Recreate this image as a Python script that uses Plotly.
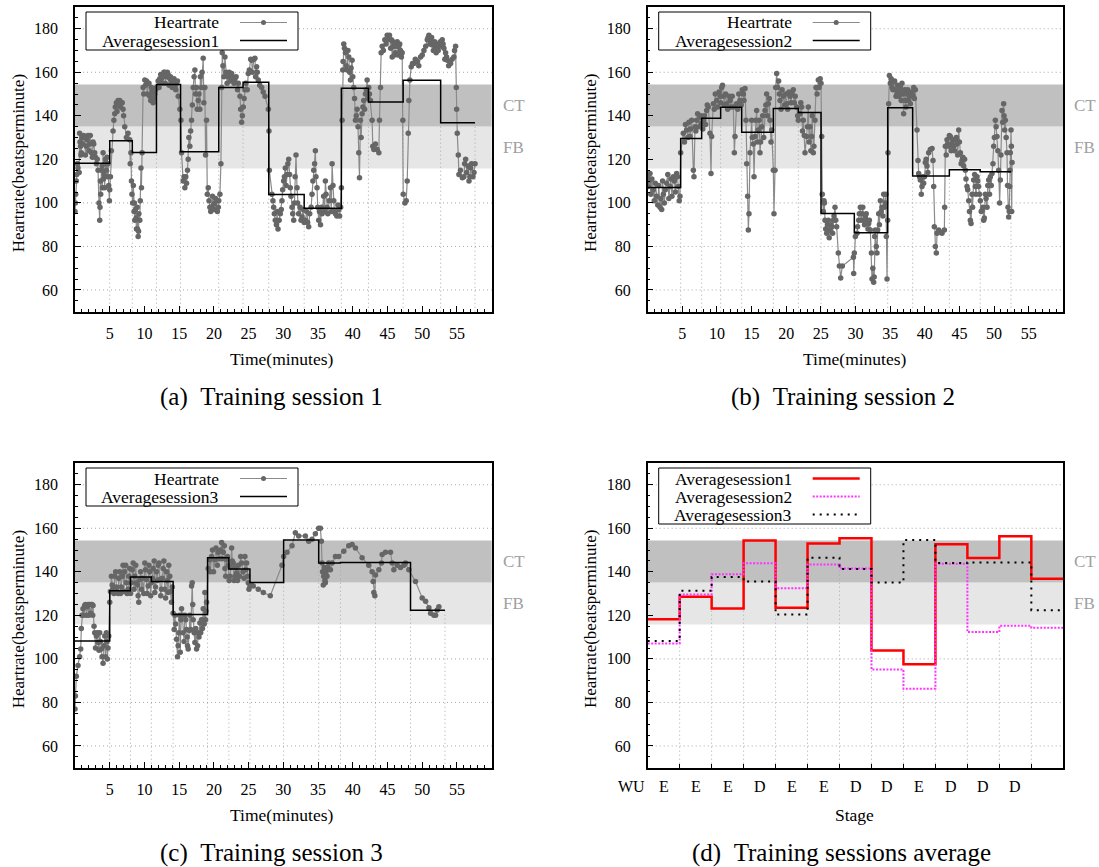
import plotly.graph_objects as go

W, H = 1099, 867
FONT = "Liberation Serif, Times New Roman, serif"

# ---------------- data ----------------
stage_labels = ["WU", "E", "E", "E", "D", "E", "E", "D", "D", "E", "D", "D", "D"]
x_ticks_minutes = [5, 10, 15, 20, 25, 30, 35, 40, 45, 50, 55]
y_ticks_hr = [60, 80, 100, 120, 140, 160, 180]
zone_fb = (115.8, 135.1)
zone_ct = (135.1, 154.4)

s1_bounds = [0, 5.0, 8.25, 11.73, 15.2, 20.7, 24.2, 27.9, 33.0, 38.35, 42.25, 47.25, 52.65, 57.6]
s1_avg = [118.2, 128.5, 123.1, 154.4, 123.5, 153.0, 155.4, 103.9, 97.5, 152.7, 146.4, 156.3, 136.8]
s2_bounds = [0, 4.76, 7.79, 10.53, 13.57, 18.14, 21.75, 25.02, 29.83, 34.65, 38.25, 43.55, 48.0, 52.45]
s2_avg = [107.1, 129.6, 138.9, 143.9, 132.5, 143.4, 141.5, 95.1, 86.3, 143.7, 112.3, 115.2, 114.3]
s3_bounds = [0, 5.0, 7.98, 11.0, 14.13, 19.09, 22.16, 25.19, 30.04, 35.09, 38.22, 43.27, 48.31, 53.27]
s3_avg = [108.2, 131.3, 137.6, 135.5, 120.4, 146.5, 141.3, 135.1, 154.6, 144.0, 144.3, 144.3, 122.4]

# heart-rate readings (minutes, bpm)
hr_session1 = [
    (0.0, 96), (0.05, 100), (0.1, 104), (0.19, 110), (0.25, 113), (0.35, 118), (0.43, 116), (0.6, 114),
    (0.67, 132), (0.72, 128), (0.8, 126), (0.85, 122), (0.91, 123), (1.0, 130), (1.15, 127), (1.25, 131),
    (1.39, 130), (1.5, 122), (1.63, 126), (1.75, 129), (1.88, 131), (2.0, 124), (2.12, 127), (2.2, 131),
    (2.36, 123), (2.5, 121), (2.6, 128), (2.7, 127), (2.84, 123), (2.95, 121), (3.08, 118), (3.2, 120),
    (3.32, 115), (3.45, 100), (3.56, 92), (3.6, 98), (3.65, 110), (3.7, 104), (3.8, 115), (3.9, 117),
    (3.95, 107), (4.04, 123), (4.1, 111), (4.2, 113), (4.28, 107), (4.35, 118), (4.4, 120), (4.52, 115),
    (4.6, 121), (4.7, 112), (4.76, 118), (4.85, 108), (4.95, 101), (5.0, 106), (5.1, 112), (5.24, 124),
    (5.48, 133), (5.6, 138), (5.72, 141), (5.8, 144), (5.96, 146), (6.05, 142), (6.2, 147), (6.3, 146),
    (6.44, 147), (6.55, 144), (6.68, 146), (6.8, 146), (6.92, 143), (7.0, 140), (7.16, 135), (7.4, 130),
    (7.64, 132), (7.88, 129), (7.95, 118), (8.05, 123), (8.13, 110), (8.2, 104), (8.3, 100), (8.4, 108),
    (8.5, 96), (8.55, 100), (8.61, 92), (8.7, 97), (8.8, 93), (8.85, 88), (8.95, 98), (9.0, 88),
    (9.09, 84.5), (9.15, 87), (9.2, 95), (9.33, 92), (9.4, 101), (9.5, 116), (9.57, 107), (9.66, 123),
    (9.81, 153), (9.9, 150), (10.05, 156.5), (10.15, 154), (10.3, 156), (10.4, 150), (10.53, 155),
    (10.65, 155), (10.77, 149), (10.9, 147), (11.01, 153), (11.1, 151), (11.25, 146), (11.35, 148),
    (11.49, 150), (11.6, 152), (11.73, 153), (11.97, 156), (12.1, 153), (12.2, 157), (12.35, 159),
    (12.45, 157), (12.55, 155), (12.7, 158), (12.8, 160), (12.93, 160), (13.0, 155), (13.17, 158),
    (13.3, 160), (13.41, 159), (13.55, 154), (13.65, 157), (13.75, 158), (13.89, 155), (14.0, 153),
    (14.13, 156), (14.25, 157), (14.38, 153), (14.5, 152), (14.62, 155), (14.75, 156), (14.86, 149),
    (15.1, 143), (15.25, 138), (15.34, 123), (15.58, 110), (15.7, 112), (15.82, 107), (15.95, 112),
    (16.06, 109), (16.2, 115), (16.3, 120), (16.4, 130), (16.54, 126), (16.65, 133), (16.78, 138),
    (16.9, 145), (17.02, 153), (17.15, 158), (17.26, 161), (17.35, 150), (17.5, 153), (17.6, 143),
    (17.74, 147), (17.85, 150), (17.98, 143), (18.05, 158), (18.22, 153), (18.3, 160), (18.46, 166.5),
    (18.55, 146), (18.7, 153), (18.8, 122), (18.94, 138), (19.05, 104), (19.18, 107), (19.3, 101),
    (19.42, 98), (19.55, 96), (19.66, 97), (19.8, 103), (19.9, 99), (20.0, 97), (20.14, 100),
    (20.25, 102), (20.4, 97), (20.5, 96), (20.63, 98), (20.7, 101), (20.87, 104), (21.01, 118),
    (21.11, 153), (21.2, 169), (21.3, 163), (21.45, 158), (21.59, 167), (21.75, 160), (21.9, 155),
    (22.07, 158), (22.2, 160), (22.4, 156), (22.55, 159.5), (22.7, 158), (22.9, 155), (23.03, 157),
    (23.2, 158), (23.4, 152), (23.51, 155), (23.75, 149), (23.85, 143), (23.99, 137), (24.1, 140),
    (24.23, 144), (24.35, 148), (24.47, 152), (24.6, 155), (24.8, 152), (24.95, 159.5), (25.1, 161),
    (25.3, 166), (25.43, 165.5), (25.55, 160), (25.75, 166), (25.91, 166.5), (26.0, 158), (26.15, 162.5),
    (26.25, 160), (26.39, 156.5), (26.6, 154), (26.88, 153), (27.1, 151), (27.36, 149), (27.84, 143),
    (27.93, 133), (27.98, 115), (28.36, 104), (28.5, 101), (28.6, 98), (28.7, 95), (28.84, 92), (29.0, 90),
    (29.1, 96), (29.23, 88), (29.4, 92), (29.56, 95), (29.7, 97), (29.8, 101), (29.9, 106), (30.04, 110),
    (30.15, 112), (30.28, 116), (30.4, 108), (30.53, 113), (30.65, 118), (30.77, 120), (30.9, 113),
    (31.0, 107), (31.1, 103), (31.25, 98), (31.35, 95), (31.49, 92), (31.6, 100), (31.7, 112), (31.82, 122),
    (31.97, 107), (32.05, 100), (32.2, 95), (32.4, 98), (32.55, 92), (32.69, 93.5), (32.85, 97), (33.0, 91),
    (33.17, 92), (33.35, 96), (33.5, 91), (33.65, 89), (33.8, 95), (34.0, 98), (34.13, 104), (34.25, 110),
    (34.37, 115), (34.5, 118), (34.61, 124), (34.7, 112), (34.85, 107), (34.95, 98), (35.09, 92), (35.2, 96),
    (35.35, 90), (35.5, 98), (35.57, 95), (35.8, 103), (35.95, 96), (36.05, 110), (36.15, 104), (36.29, 98),
    (36.4, 95), (36.6, 101), (36.78, 107), (36.9, 96), (37.02, 118), (37.15, 108), (37.26, 101), (37.35, 96),
    (37.5, 95), (37.7, 94), (37.85, 99), (37.98, 97), (38.1, 94), (38.25, 98), (38.36, 107), (38.46, 138),
    (38.55, 161), (38.6, 165), (38.7, 173), (38.8, 171), (38.94, 169), (39.05, 163), (39.18, 161),
    (39.3, 170), (39.42, 167), (39.55, 160), (39.66, 156.5), (39.75, 162), (39.9, 165.5), (40.0, 158),
    (40.14, 153), (40.25, 148), (40.38, 138), (40.5, 140), (40.62, 143), (40.75, 135), (40.86, 123),
    (40.96, 111.5), (41.1, 138), (41.2, 130), (41.34, 141), (41.45, 144), (41.58, 147), (41.7, 143),
    (41.82, 150), (41.95, 152), (42.06, 156.5), (42.2, 148), (42.3, 153), (42.4, 150), (42.54, 147),
    (42.78, 138), (42.88, 126), (43.03, 124.5), (43.27, 127), (43.51, 124.5), (43.75, 123), (43.84, 138),
    (43.99, 153), (44.08, 169), (44.23, 172), (44.4, 170), (44.61, 175), (44.8, 173), (44.95, 177),
    (45.1, 175), (45.28, 177), (45.45, 171), (45.57, 175), (45.67, 167), (45.8, 174), (45.91, 172),
    (46.0, 168), (46.15, 169), (46.25, 172), (46.39, 174), (46.5, 168), (46.63, 172), (46.75, 173),
    (46.87, 170), (47.0, 167), (47.11, 169), (47.21, 138), (47.26, 104), (47.5, 100), (47.69, 101),
    (47.83, 110), (47.98, 132), (48.07, 147), (48.22, 156.5), (48.41, 162.5), (48.6, 164), (48.79, 164),
    (49.0, 166), (49.28, 165), (49.5, 163), (49.76, 167), (50.0, 168), (50.24, 170), (50.5, 172),
    (50.72, 175), (50.85, 176), (50.96, 177), (51.1, 173), (51.2, 175), (51.35, 176), (51.44, 172.5),
    (51.6, 170), (51.8, 174), (51.92, 172), (52.0, 169), (52.16, 171), (52.3, 170), (52.4, 173),
    (52.6, 174), (52.75, 172), (52.88, 175), (53.0, 173), (53.12, 171), (53.25, 166), (53.36, 169),
    (53.5, 167), (53.6, 165.5), (53.8, 163), (54.08, 164), (54.3, 166), (54.56, 167), (54.65, 170),
    (54.8, 172), (54.9, 153), (54.95, 143), (55.04, 132), (55.19, 122), (55.28, 113), (55.5, 115),
    (55.77, 111.5), (56.0, 112), (56.1, 118), (56.25, 120), (56.4, 114), (56.6, 117), (56.73, 110),
    (56.85, 112), (56.97, 116), (57.1, 118), (57.3, 112), (57.45, 114), (57.6, 118),
]

hr_session2 = [
    (0.0, 112), (0.09, 107.5), (0.2, 110), (0.33, 113.5), (0.45, 104), (0.6, 111), (0.81, 106), (0.95, 101),
    (1.1, 109), (1.29, 103), (1.45, 99), (1.6, 108), (1.78, 98), (1.9, 102), (2.02, 97), (2.15, 110),
    (2.26, 104), (2.4, 100), (2.55, 106), (2.74, 109), (2.9, 113), (3.05, 102), (3.22, 107.5), (3.35, 111),
    (3.5, 103), (3.7, 112), (3.85, 110), (4.0, 105), (4.18, 113.5), (4.3, 112), (4.42, 107.5), (4.55, 101),
    (4.66, 103), (4.76, 123), (5.14, 132), (5.3, 128), (5.45, 136), (5.63, 133.5), (5.8, 130), (5.95, 137),
    (6.11, 130.5), (6.2, 134), (6.35, 138), (6.59, 115), (6.68, 112), (6.83, 135), (6.95, 133), (7.07, 138),
    (7.2, 141), (7.4, 135), (7.55, 139.5), (7.7, 140), (7.79, 136.5), (7.95, 134), (8.03, 138), (8.2, 140),
    (8.35, 136), (8.51, 142.5), (8.6, 145), (8.75, 144), (8.99, 132), (9.14, 113.5), (9.23, 130.5),
    (9.48, 145.5), (9.6, 143), (9.75, 150), (9.96, 147), (10.1, 144), (10.3, 151), (10.44, 149),
    (10.55, 146), (10.68, 153), (10.8, 154), (10.92, 149), (11.05, 145), (11.25, 150), (11.4, 145.5),
    (11.55, 143), (11.75, 149), (11.88, 147), (12.0, 144), (12.2, 149), (12.36, 144), (12.51, 123),
    (12.6, 130.5), (12.84, 145.5), (13.0, 143), (13.15, 150), (13.32, 147), (13.5, 145), (13.65, 152),
    (13.81, 150), (13.9, 147), (14.05, 152.5), (14.19, 138), (14.29, 118), (14.43, 103), (14.53, 87.5),
    (14.62, 95), (14.77, 123), (15.01, 138), (15.1, 130), (15.25, 127), (15.35, 112), (15.49, 130.5),
    (15.6, 138), (15.73, 142.5), (15.85, 128), (15.97, 133.5), (16.1, 138), (16.21, 123), (16.3, 128),
    (16.45, 135), (16.6, 140), (16.75, 130), (16.93, 142.5), (17.05, 145), (17.17, 150), (17.3, 140),
    (17.42, 145.5), (17.55, 148), (17.66, 138), (17.8, 128), (17.9, 133.5), (18.14, 115), (18.23, 95),
    (18.38, 115), (18.48, 153), (18.62, 159.5), (18.76, 153), (18.9, 156), (19.0, 150), (19.1, 147),
    (19.25, 143), (19.4, 152), (19.58, 149), (19.75, 145), (19.9, 150), (20.06, 145.5), (20.2, 143),
    (20.4, 151), (20.54, 149), (20.7, 146), (20.85, 150), (21.02, 152), (21.15, 146), (21.3, 149),
    (21.5, 144), (21.65, 140), (21.75, 138), (21.99, 141), (22.1, 146), (22.23, 144), (22.35, 133),
    (22.47, 138), (22.6, 131), (22.71, 123), (22.95, 130.5), (23.05, 135), (23.19, 144), (23.3, 128),
    (23.43, 135), (23.55, 124), (23.67, 130.5), (23.75, 140), (23.91, 123), (24.0, 126), (24.15, 138),
    (24.3, 153), (24.45, 150), (24.63, 156.5), (24.75, 153), (24.9, 157), (25.02, 155), (25.12, 130.5),
    (25.2, 104), (25.35, 96), (25.45, 101), (25.5, 100), (25.6, 92), (25.7, 88), (25.84, 86), (25.95, 90),
    (26.08, 92), (26.2, 84), (26.32, 87.5), (26.45, 90), (26.56, 89), (26.7, 86), (26.8, 92), (26.9, 94),
    (27.04, 98), (27.15, 92), (27.28, 89), (27.52, 77), (27.67, 71), (27.86, 65.5), (28.1, 71), (29.7, 75),
    (29.74, 67.5), (29.83, 77), (29.98, 84.5), (30.22, 86), (30.3, 89), (30.46, 92), (30.55, 95), (30.7, 98),
    (30.8, 92), (30.94, 95), (31.05, 98), (31.18, 92), (31.3, 90), (31.42, 93.5), (31.55, 95), (31.66, 92),
    (31.8, 88), (31.9, 90.5), (32.0, 92), (32.14, 87.5), (32.29, 77), (32.38, 65), (32.5, 70), (32.62, 63.5),
    (32.7, 66), (32.77, 84.5), (32.86, 87.5), (33.0, 80), (33.1, 77), (33.2, 87.5), (33.35, 95),
    (33.45, 90), (33.59, 101), (33.7, 96), (33.83, 98), (33.95, 94), (34.07, 104), (34.2, 98), (34.31, 100),
    (34.4, 104), (34.45, 84.5), (34.55, 65), (34.64, 92), (34.69, 123), (34.79, 145.5), (34.89, 158.5),
    (35.03, 155), (35.15, 157), (35.27, 153), (35.4, 152), (35.51, 155.5), (35.65, 156), (35.75, 152),
    (35.85, 149), (35.99, 150), (36.1, 154), (36.23, 149), (36.35, 151), (36.47, 153), (36.6, 147),
    (36.71, 155), (36.85, 150), (36.95, 141), (37.1, 152), (37.2, 147), (37.3, 144), (37.44, 150),
    (37.55, 152), (37.68, 147), (37.8, 149), (37.92, 145.5), (38.05, 151), (38.16, 150), (38.3, 149),
    (38.4, 153), (38.5, 148), (38.64, 152), (38.88, 133.5), (39.02, 119.5), (39.12, 113.5), (39.25, 112),
    (39.36, 110.5), (39.5, 104), (39.6, 107.5), (39.7, 112), (39.84, 109), (39.95, 112), (40.08, 118.5),
    (40.2, 120), (40.32, 117), (40.45, 114), (40.56, 123), (40.8, 124.5), (41.05, 125), (41.19, 119.5),
    (41.29, 107.5), (41.38, 89), (41.53, 80), (41.67, 77), (41.77, 86), (42.01, 87.5), (42.25, 86.5),
    (42.49, 86), (42.83, 87.5), (42.87, 98), (42.97, 126), (43.1, 122), (43.21, 129), (43.3, 127),
    (43.45, 126), (43.55, 131), (43.69, 130.5), (43.8, 124), (43.93, 127), (44.05, 129), (44.17, 126),
    (44.3, 124), (44.41, 129), (44.55, 130), (44.65, 127), (44.75, 122), (44.9, 133.5), (45.0, 128),
    (45.14, 123), (45.25, 118), (45.38, 119.5), (45.5, 121), (45.62, 117), (45.75, 120), (45.86, 115),
    (45.95, 111), (46.1, 107.5), (46.2, 106), (46.34, 101), (46.45, 96), (46.58, 92), (46.68, 90.5),
    (46.82, 104), (46.9, 98), (47.06, 110.5), (47.2, 113), (47.3, 107.5), (47.4, 104), (47.54, 112),
    (47.65, 110), (47.78, 107.5), (47.9, 104), (48.02, 101), (48.15, 96), (48.26, 96.5), (48.4, 98),
    (48.5, 92), (48.6, 93), (48.74, 104), (48.85, 102), (48.99, 98), (49.1, 108), (49.23, 110.5),
    (49.35, 104), (49.47, 112), (49.6, 108), (49.71, 113.5), (49.85, 118), (49.95, 126), (50.05, 130),
    (50.19, 138), (50.3, 135), (50.43, 130.5), (50.55, 124), (50.67, 115), (50.81, 100), (50.91, 110.5),
    (51.0, 122), (51.15, 142.5), (51.25, 137), (51.39, 145.5), (51.45, 140), (51.54, 133.5), (51.63, 138),
    (51.75, 130), (51.87, 123), (51.95, 108), (52.02, 98), (52.11, 93.5), (52.2, 96), (52.26, 107.5),
    (52.3, 115), (52.35, 123), (52.45, 133.5), (52.5, 126), (52.55, 96), (52.6, 118.5),
]

hr_session3 = [
    (0.0, 77), (0.05, 83), (0.19, 92), (0.43, 97), (0.67, 101), (0.82, 104.5), (0.91, 114), (1.01, 120),
    (1.15, 123), (1.25, 120), (1.39, 124.5), (1.5, 125), (1.65, 120), (1.75, 124), (1.88, 125), (2.0, 120),
    (2.1, 125), (2.25, 121), (2.36, 125), (2.45, 125), (2.55, 120), (2.6, 124.5), (2.74, 115), (2.84, 112),
    (2.95, 105), (3.08, 110.5), (3.2, 112), (3.32, 107.5), (3.45, 104), (3.56, 112), (3.65, 108),
    (3.8, 104.5), (3.9, 101), (4.04, 98), (4.15, 106), (4.28, 110.5), (4.4, 101), (4.52, 112), (4.6, 108),
    (4.66, 100), (4.75, 105), (4.86, 110.5), (5.0, 126), (5.1, 131), (5.24, 138), (5.35, 134), (5.48, 132),
    (5.6, 130), (5.72, 138), (5.85, 140), (5.96, 133), (6.05, 131), (6.2, 130), (6.3, 137), (6.44, 140),
    (6.55, 130), (6.68, 133), (6.8, 138), (6.92, 143), (7.05, 131), (7.16, 140), (7.3, 143), (7.4, 135),
    (7.5, 130), (7.64, 132), (7.75, 138), (7.88, 141.5), (8.0, 130), (8.13, 135), (8.25, 141), (8.37, 144),
    (8.5, 132), (8.61, 138), (8.75, 143), (8.85, 135), (9.0, 134), (9.09, 129), (9.18, 126), (9.33, 136.5),
    (9.45, 140), (9.57, 132), (9.7, 137), (9.9, 130), (10.05, 144), (10.15, 141), (10.29, 136.5),
    (10.4, 130), (10.53, 133.5), (10.65, 143), (10.77, 140), (10.9, 129), (11.01, 135), (11.15, 137),
    (11.25, 141.5), (11.4, 145), (11.49, 130.5), (11.6, 133), (11.73, 140), (11.85, 136), (11.97, 143),
    (12.1, 144), (12.21, 136.5), (12.35, 129), (12.45, 132), (12.55, 137), (12.69, 141.5), (12.8, 145),
    (12.93, 132), (13.05, 128), (13.17, 140), (13.3, 136), (13.41, 130.5), (13.5, 143), (13.65, 138),
    (13.75, 131), (13.89, 126), (14.0, 133), (14.13, 121), (14.28, 113.5), (14.38, 120), (14.5, 116),
    (14.62, 109), (14.76, 101), (14.85, 106), (14.95, 112), (15.05, 120), (15.15, 103), (15.24, 118),
    (15.34, 123), (15.45, 120), (15.58, 112), (15.7, 108), (15.82, 120), (15.95, 118), (16.06, 113.5),
    (16.15, 110), (16.2, 106), (16.3, 104.5), (16.45, 113), (16.54, 120), (16.68, 113.5), (16.78, 133.5),
    (16.88, 135), (16.95, 125), (17.02, 118), (17.15, 112), (17.26, 107.5), (17.4, 114), (17.5, 104.5),
    (17.65, 106), (17.74, 112), (17.85, 110), (17.98, 116.5), (18.1, 112), (18.22, 118), (18.35, 114),
    (18.46, 123), (18.6, 116), (18.7, 130.5), (18.8, 118), (18.85, 122), (18.94, 126), (19.18, 141.5),
    (19.42, 145.5), (19.5, 140), (19.66, 147), (19.8, 150), (19.95, 140), (20.14, 145.5), (20.3, 151),
    (20.5, 143), (20.63, 149), (20.8, 146), (20.95, 150), (21.11, 153.5), (21.2, 146), (21.35, 149),
    (21.5, 152), (21.59, 141.5), (21.7, 138), (21.83, 145.5), (21.95, 147), (22.07, 143), (22.2, 136),
    (22.31, 138), (22.45, 142), (22.55, 151), (22.65, 145), (22.79, 144), (22.9, 136), (23.03, 138),
    (23.15, 142), (23.27, 139.5), (23.4, 136), (23.51, 143), (23.7, 138), (23.85, 147), (23.99, 144),
    (24.2, 140), (24.35, 137), (24.47, 147), (24.6, 141), (24.71, 144), (24.85, 138), (24.95, 135),
    (25.05, 132), (25.19, 133.5), (25.4, 134), (25.67, 133.5), (26.39, 132), (27.12, 130.5), (28.12, 129),
    (29.8, 143), (30.04, 147), (30.53, 149), (31.25, 152), (31.73, 158), (32.21, 156.5), (33.17, 156.5),
    (33.65, 154), (34.13, 155), (34.61, 157.5), (35.09, 160), (35.33, 160), (35.48, 154), (35.57, 144),
    (35.65, 140), (35.75, 134), (35.81, 138), (35.9, 142), (36.0, 136), (36.05, 135), (36.15, 140),
    (36.29, 138), (36.4, 142), (36.53, 144), (36.78, 141), (37.02, 144), (37.5, 147), (37.98, 147),
    (38.7, 149.5), (39.42, 152), (39.9, 152.5), (40.38, 151), (41.34, 146.5), (42.3, 143), (42.78, 140),
    (42.93, 135.5), (43.03, 130.5), (43.17, 129), (43.27, 138.5), (43.75, 141), (44.13, 144), (44.23, 148),
    (44.71, 149), (45.43, 149), (45.67, 144), (45.91, 141), (46.39, 143), (46.87, 142), (47.35, 143),
    (47.59, 144), (48.07, 141), (49.03, 135.5), (49.99, 128), (50.48, 126.5), (50.96, 123.5), (51.2, 121),
    (51.68, 120), (51.92, 120), (52.16, 122.5), (52.4, 124),
]

# ---------------- layout geometry (pixels) ----------------
PANELS = [
    dict(x0=75.0, x1=491.7, y0=7.0, y1=311.7),      # (a)
    dict(x0=647.7, x1=1063.3, y0=7.0, y1=311.7),    # (b)
    dict(x0=75.0, x1=491.7, y0=463.0, y1=767.7),    # (c)
    dict(x0=647.7, x1=1063.3, y0=463.0, y1=767.7),  # (d)
]


def pxx(x):
    return x / W


def pxy(y):
    return 1 - y / H


def axname(n, kind):
    return kind if n == 1 else f"{kind}{n}"


GRID_GRAY = "#a8a8a8"
GRID_DASH = "1px,3px"
HR_MARKER = "#666666"
HR_LINE = "#8a8a8a"

fig = go.Figure()


def boundary_trace(bounds, vals_list, n, include_end=True):
    xs, ys = [], []
    nst = len(vals_list[0])
    for k in range(1, nst):
        top = min(min(v[k - 1], v[k]) for v in vals_list)
        xs += [bounds[k], bounds[k], None]
        ys += [50, top, None]
    if include_end:
        top = min(v[-1] for v in vals_list)
        xs += [bounds[nst], bounds[nst], None]
        ys += [50, top, None]
    return go.Scatter(x=xs, y=ys, mode="lines", xaxis=axname(n, "x"), yaxis=axname(n, "y"),
                      line=dict(color=GRID_GRAY, width=1, dash=GRID_DASH), hoverinfo="skip",
                      showlegend=False)


sessions = [(hr_session1, s1_bounds, s1_avg), (hr_session2, s2_bounds, s2_avg),
            (hr_session3, s3_bounds, s3_avg)]

for i, (hr, bnds, avg) in enumerate(sessions):
    n = i + 1
    hr_sorted = sorted(hr)
    fig.add_trace(boundary_trace(bnds, [avg], n))
    fig.add_trace(go.Scatter(
        x=[p[0] for p in hr_sorted], y=[p[1] for p in hr_sorted], mode="lines+markers",
        xaxis=axname(n, "x"), yaxis=axname(n, "y"),
        line=dict(color=HR_LINE, width=1.2), marker=dict(color=HR_MARKER, size=5.5),
        showlegend=False))
    fig.add_trace(go.Scatter(
        x=bnds, y=avg + [avg[-1]], mode="lines", line_shape="hv",
        xaxis=axname(n, "x"), yaxis=axname(n, "y"),
        line=dict(color="black", width=1.5), showlegend=False))

# panel (d)
stage_x = list(range(len(stage_labels) + 1))
fig.add_trace(boundary_trace(stage_x, [s1_avg, s2_avg, s3_avg], 4, include_end=False))
S1_STYLE = dict(color="#ff0000", width=2.5)
S2_STYLE = dict(color="#ff33ff", width=2, dash="2px,1.5px")
S3_STYLE = dict(color="black", width=2, dash="2px,5px")
for vals, st in [(s1_avg, S1_STYLE), (s2_avg, S2_STYLE), (s3_avg, S3_STYLE)]:
    fig.add_trace(go.Scatter(x=stage_x, y=vals + [vals[-1]], mode="lines", line_shape="hv",
                             xaxis="x4", yaxis="y4", line=st, showlegend=False))

# ---------------- axes ----------------
tickfont = dict(family=FONT, size=16, color="black")
layout_axes = {}
for idx, p in enumerate(PANELS):
    n = idx + 1
    xdom = [pxx(p["x0"]), pxx(p["x1"])]
    ydom = [pxy(p["y1"]), pxy(p["y0"])]
    common = dict(showline=True, mirror=True, linecolor="black", linewidth=1.5,
                  ticks="inside", tickcolor="black", tickwidth=1, zeroline=False,
                  tickfont=tickfont, showgrid=False)
    if n < 4:
        xa = dict(domain=xdom, range=[0, 60], anchor=axname(n, "y"), tickmode="array",
                  tickvals=x_ticks_minutes, ticklen=6, ticklabelstandoff=6,
                  minor=dict(ticks="inside", ticklen=3, tickmode="linear", tick0=0, dtick=1,
                             tickcolor="black", showgrid=False),
                  **common)
    else:
        xa = dict(domain=xdom, range=[0, 13], anchor="y4", tickmode="array",
                  tickvals=list(range(1, 13)), ticktext=[""] * 12, ticklen=4,
                  **common)
    ya = dict(domain=ydom, range=[50, 190], anchor=axname(n, "x"), tickmode="array",
              tickvals=y_ticks_hr, ticklen=6, ticklabelstandoff=12,
              minor=dict(ticks="inside", ticklen=3, tickmode="linear", tick0=0, dtick=5,
                         tickcolor="black", showgrid=False),
              **common)
    layout_axes["xaxis" if n == 1 else f"xaxis{n}"] = xa
    layout_axes["yaxis" if n == 1 else f"yaxis{n}"] = ya

# ---------------- shapes & annotations ----------------
shapes = []
annotations = []


def ann(text, x, y, size, xanchor="center", yanchor="middle", color="black", angle=0):
    return dict(text=text, x=pxx(x), y=pxy(y), xref="paper", yref="paper", showarrow=False,
                font=dict(family=FONT, size=size, color=color), xanchor=xanchor,
                yanchor=yanchor, textangle=angle)


for idx, p in enumerate(PANELS):
    n = idx + 1
    xr = ("x" if n == 1 else f"x{n}") + " domain"
    yr = axname(n, "y")
    for gy in y_ticks_hr:
        shapes.append(dict(type="line", xref=xr, yref=yr, x0=0, x1=1, y0=gy, y1=gy,
                           line=dict(color=GRID_GRAY, width=1, dash=GRID_DASH), layer="below"))
    shapes.append(dict(type="rect", xref=xr, yref=yr, x0=0, x1=1, y0=zone_fb[0], y1=zone_fb[1],
                       fillcolor="#e6e6e6", line=dict(width=0), layer="below"))
    shapes.append(dict(type="rect", xref=xr, yref=yr, x0=0, x1=1, y0=zone_ct[0], y1=zone_ct[1],
                       fillcolor="#c0c0c0", line=dict(width=0), layer="below"))
    annotations.append(dict(text="CT", x=pxx(p["x1"] + 9), y=(zone_ct[0] + zone_ct[1]) / 2,
                            xref="paper", yref=yr, xanchor="left", yanchor="middle",
                            showarrow=False, font=dict(family=FONT, size=17, color="#a0a0a0")))
    annotations.append(dict(text="FB", x=pxx(p["x1"] + 9), y=(zone_fb[0] + zone_fb[1]) / 2,
                            xref="paper", yref=yr, xanchor="left", yanchor="middle",
                            showarrow=False, font=dict(family=FONT, size=17, color="#a0a0a0")))
    annotations.append(ann("Heartrate(beatsperminute)", p["x0"] - 57, (p["y0"] + p["y1"]) / 2 + 4,
                           17, angle=-90))
    xt = "Time(minutes)" if n < 4 else "Stage"
    annotations.append(ann(xt, (p["x0"] + p["x1"]) / 2 - 1, p["y1"] + 47, 17.5))


def legend(p, entries):
    x0, y0 = p["x0"], p["y0"]
    rows = len(entries)
    shapes.append(dict(type="rect", xref="paper", yref="paper",
                       x0=pxx(x0 + 11), x1=pxx(x0 + 223), y0=pxy(y0 + 5), y1=pxy(y0 + 7 + 18 * rows),
                       fillcolor="white", line=dict(color="black", width=1), layer="above"))
    for i, (label, style) in enumerate(entries):
        yy = y0 + 15.5 + 18 * i
        annotations.append(ann(label, x0 + 146, yy, 17.5, xanchor="right"))
        shapes.append(dict(type="line", xref="paper", yref="paper", x0=pxx(x0 + 165),
                           x1=pxx(x0 + 212), y0=pxy(yy), y1=pxy(yy), line=style, layer="above"))
        if label == "Heartrate":
            cx = x0 + 188.5
            shapes.append(dict(type="circle", xref="paper", yref="paper",
                               x0=pxx(cx - 2.5), x1=pxx(cx + 2.5), y0=pxy(yy + 2.5), y1=pxy(yy - 2.5),
                               fillcolor=HR_MARKER, line=dict(width=0), layer="above"))


for idx in range(3):
    legend(PANELS[idx], [("Heartrate", dict(color=HR_LINE, width=1)),
                         (f"Averagesession{idx + 1}", dict(color="black", width=1.5))])
legend(PANELS[3], [("Averagesession1", S1_STYLE),
                   ("Averagesession2", S2_STYLE),
                   ("Averagesession3", S3_STYLE)])

# stage labels (panel d)
pd = PANELS[3]
sw = (pd["x1"] - pd["x0"]) / 13
for k, lab in enumerate(stage_labels):
    annotations.append(ann(lab, pd["x0"] + (k - 0.5) * sw, pd["y1"] + 19, 16))

# captions
SP = "\u00a0\u00a0"
annotations.append(ann("(a)" + SP + "Training session 1", 271, 396.7, 25))
annotations.append(ann("(b)" + SP + "Training session 2", 843, 396.7, 25))
annotations.append(ann("(c)" + SP + "Training session 3", 271, 852.7, 25))
annotations.append(ann("(d)" + SP + "Training sessions average", 841, 852.7, 25))

fig.update_layout(
    width=W, height=H, margin=dict(l=0, r=0, t=0, b=0),
    paper_bgcolor="white", plot_bgcolor="white", showlegend=False,
    shapes=shapes, annotations=annotations, **layout_axes,
)

fig.write_html("out.html")
